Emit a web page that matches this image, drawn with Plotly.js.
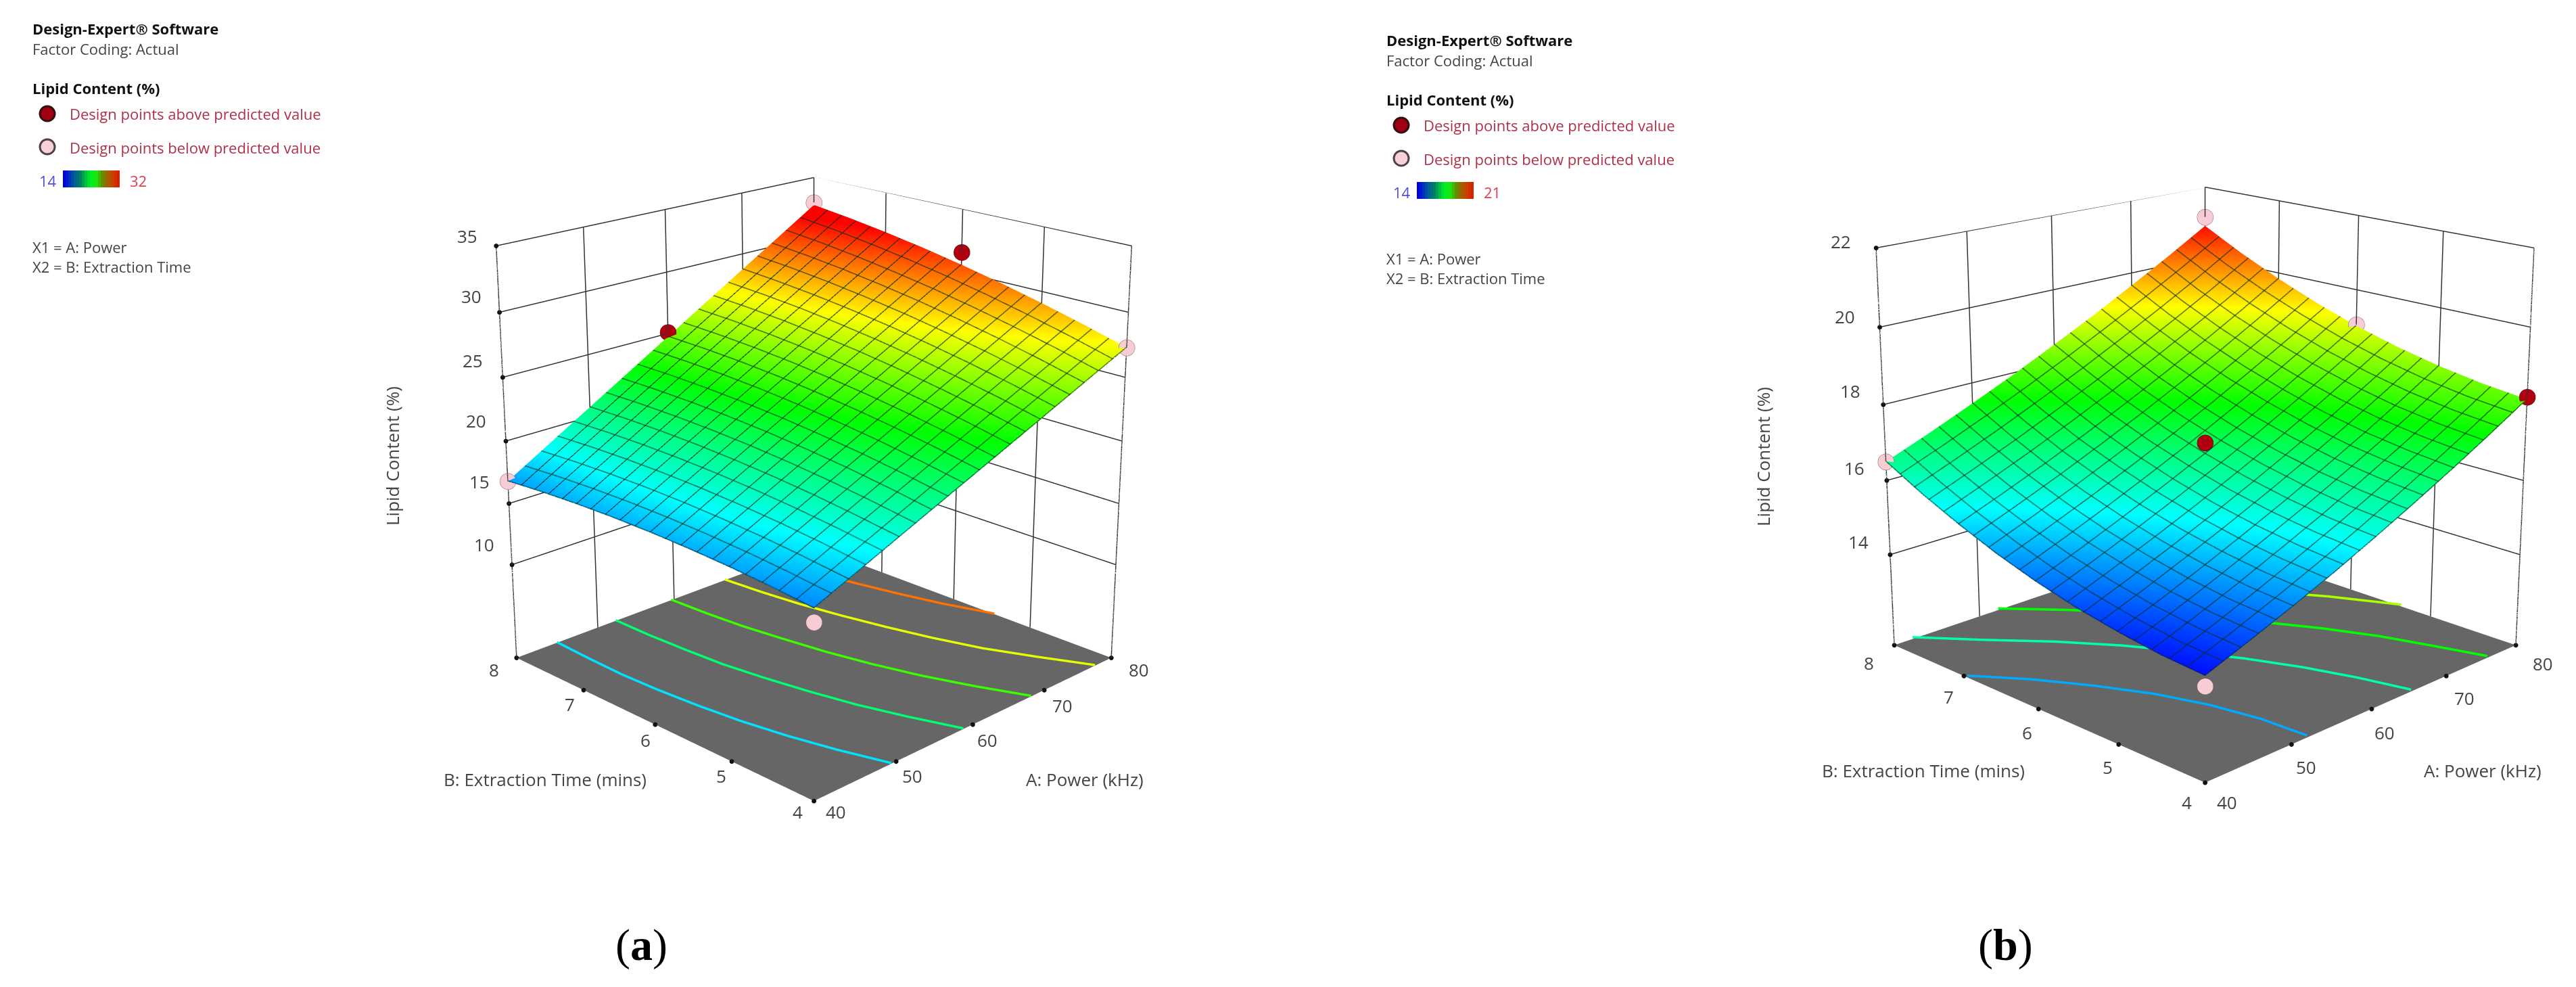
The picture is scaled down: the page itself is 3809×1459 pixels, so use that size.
<!DOCTYPE html>
<html><head><meta charset="utf-8">
<script src="https://cdn.plot.ly/plotly-3.0.1.min.js"></script>
<style>html,body{margin:0;padding:0;background:#fff;overflow:hidden;width:3809px;height:1459px}
#plot{position:absolute;left:0;top:-672px;width:3809px;height:2700px}</style>
</head><body><div id="plot"></div>
<script>
const powerGrid=[40,45,50,55,60,65,70,75,80];
const timeGrid=[4,4.5,5,5.5,6,6.5,7,7.5,8];
const powerTicks=[40,50,60,70,80];
const timeTicks=[4,5,6,7,8];
const zTicksA=[10,15,20,25,30,35];
const zTicksB=[14,16,18,20,22];
const lipidA=[
[16.40,17.76,19.13,20.49,21.85,23.21,24.58,25.94,27.30],
[16.71,18.15,19.59,21.03,22.48,23.92,25.36,26.80,28.24],
[16.95,18.47,19.99,21.51,23.03,24.54,26.06,27.58,29.10],
[17.11,18.71,20.31,21.90,23.50,25.10,26.69,28.29,29.89],
[17.20,18.88,20.55,22.23,23.90,25.58,27.25,28.93,30.60],
[17.21,18.97,20.72,22.47,24.23,25.98,27.73,29.48,31.24],
[17.15,18.98,20.81,22.64,24.48,26.31,28.14,29.97,31.80],
[17.01,18.92,20.83,22.74,24.65,26.56,28.47,30.38,32.29],
[16.80,18.79,20.78,22.76,24.75,26.74,28.73,30.71,32.70]];
const lipidB=[
[14.10,14.52,14.96,15.42,15.92,16.44,16.98,17.55,18.14],
[14.18,14.60,15.05,15.53,16.02,16.55,17.10,17.67,18.27],
[14.33,14.75,15.21,15.69,16.19,16.72,17.27,17.85,18.46],
[14.53,14.97,15.43,15.91,16.42,16.95,17.51,18.10,18.71],
[14.80,15.24,15.71,16.20,16.71,17.25,17.82,18.41,19.02],
[15.13,15.58,16.05,16.55,17.06,17.61,18.18,18.78,19.40],
[15.53,15.98,16.45,16.95,17.48,18.03,18.61,19.21,19.84],
[15.98,16.44,16.92,17.43,17.96,18.52,19.10,19.70,20.34],
[16.50,16.96,17.45,17.96,18.50,19.06,19.65,20.26,20.90]];
const abovePtsA={x:[60,80],y:[8,6],z:[25.1,31.6]};
const belowPtsA={x:[40,80,80,40],y:[8,8,4,4],z:[16.8,32.9,27.3,15.4]};
const abovePtsB={x:[60,80],y:[6,4],z:[17.0,18.2]};
const belowPtsB={x:[40,80,80,40],y:[8,8,6,4],z:[16.5,21.15,19.05,13.85]};
// floor contours: level, power values, time values
const contourTimes=[4,4.5,5,5.5,6,6.5,7,7.5,8];
const contoursA=[
 {level:18,p:[49.4,47.9,46.7,45.8,45.2,44.8,44.6,44.7,44.9],t:contourTimes},
 {level:21,p:[58.75,57.0,55.5,54.4,53.5,52.8,52.5,52.3,52.3],t:contourTimes},
 {level:24,p:[68.1,66.0,64.2,62.8,61.7,60.9,60.2,59.8,59.6],t:contourTimes},
 {level:27,p:[77.5,75.1,72.9,71.3,70.0,68.9,68.0,67.4,67.0],t:contourTimes},
 {level:30,p:[80,78.2,76.9,75.8,75.0,74.4],t:[5.46,6,6.5,7,7.5,8]}];
const contoursB=[
 {level:15.17,p:[51.9,51.6,50.6,48.9,46.4,43.4,40],t:[4,4.5,5,5.5,6,6.5,6.95]},
 {level:16.33,p:[65.2,63.9,62.2,60,57.3,54.3,50.6,46.2,42.1],t:contourTimes},
 {level:17.5,p:[75.8,74.2,72.5,70.2,67.4,64.2,60.7,56.7,52.25],t:contourTimes},
 {level:18.67,p:[80,79.3,76.7,73.5,70,66,61.7],t:[5.36,5.5,6,6.5,7,7.5,8]}];
const legendLines=["Design-Expert® Software","Factor Coding: Actual","Lipid Content (%)","Design points above predicted value","Design points below predicted value","X1 = A: Power","X2 = B: Extraction Time"];
const axisTitles=["A: Power (kHz)","B: Extraction Time (mins)","Lipid Content (%)"];
const scaleColors=[[0,'#0000ff'],[0.25,'#00ffff'],[0.5,'#00ff00'],[0.75,'#ffff00'],[1,'#ff0000']];
const swatchColors=['#0000e0','#0018d0','#0030c0','#004aa8','#006090','#007078','#008060','#00a050','#00c040','#00dc30','#00f020','#10e818','#20e010','#40b808','#609000','#807800','#a06000','#b45000','#c84000','#d03000','#d82000'];

const H=2700,W=3809,OFFSET=672;
const px=x=>x/W, py=y=>1-(y+OFFSET)/H;

function wallGrid(zmin,zTicks){
  const zmax=zTicks[zTicks.length-1];
  const X=[],Y=[],Z=[];
  const seg=(a,b)=>{X.push(a[0],b[0],null);Y.push(a[1],b[1],null);Z.push(a[2],b[2],null);};
  powerTicks.forEach(p=>seg([p,8,zmin],[p,8,zmax]));
  timeTicks.forEach(t=>seg([80,t,zmin],[80,t,zmax]));
  zTicks.forEach(z=>{seg([40,8,z],[80,8,z]);seg([80,4,z],[80,8,z]);});
  return {X,Y,Z};
}
function colorAt(v,cmax){
  const f=Math.max(0,Math.min(1,(v-14)/(cmax-14)))*4, i=Math.min(3,Math.floor(f)), u=f-i;
  const st=[[0,0,255],[0,255,255],[0,255,0],[255,255,0],[255,0,0]];
  const c=st[i].map((a,k)=>Math.round(a+(st[i+1][k]-a)*u));
  return `rgb(${c[0]},${c[1]},${c[2]})`;
}
function build(scene,zvals,zmin,zTicks,cmax,contours,above,below,stem){
  const g=wallGrid(zmin,zTicks);
  const tr=[];
  tr.push({type:'scatter3d',scene,mode:'lines',x:g.X,y:g.Y,z:g.Z,line:{color:'#333',width:3},hoverinfo:'skip',showlegend:false});
  contours.forEach(c=>tr.push({type:'scatter3d',scene,mode:'lines',x:c.p,y:c.t,z:c.p.map(()=>zmin+0.05),line:{color:colorAt(c.level,cmax),width:7},hoverinfo:'skip',showlegend:false}));
  const surf=(dx,dy)=>({type:'surface',scene,x:powerGrid,y:timeGrid,z:zvals,cmin:14,cmax:cmax,colorscale:scaleColors,showscale:false,
    lighting:{ambient:1,diffuse:0,specular:0,roughness:1,fresnel:0},hoverinfo:'skip',
    contours:{x:{show:true,start:40+dx,end:80,size:2,color:'#0a2a18',width:1,highlight:false},
      y:{show:true,start:4+dy,end:8,size:0.2,color:'#0a2a18',width:1,highlight:false}}});
  tr.push(surf(0,0));
  tr.push(surf(0.07,0.007));
  tr.push({type:'scatter3d',scene,mode:'markers',x:above.x,y:above.y,z:above.z,marker:{size:14,color:'#b00010',line:{color:'#401010',width:1}},hoverinfo:'skip',showlegend:false});
  tr.push({type:'scatter3d',scene,mode:'markers',x:below.x,y:below.y,z:below.z,marker:{size:14,color:'#f8ccd4',line:{color:'#806068',width:1}},hoverinfo:'skip',showlegend:false});
  if(stem) tr.push({type:'scatter3d',scene,mode:'lines',x:stem.x,y:stem.y,z:stem.z,line:{color:'#701010',width:3},hoverinfo:'skip',showlegend:false});
  const tx=[],ty=[],tz=[];
  powerTicks.forEach(p=>{tx.push(p);ty.push(4);tz.push(zmin);});
  timeTicks.forEach(t=>{tx.push(40);ty.push(t);tz.push(zmin);});
  zTicks.forEach(z=>{tx.push(40);ty.push(8);tz.push(z);});
  tr.push({type:'scatter3d',scene,mode:'markers',x:tx,y:ty,z:tz,marker:{size:4,color:'#111'},hoverinfo:'skip',showlegend:false});
  return tr;
}
const axisBase={showgrid:false,zeroline:false,showline:false,showbackground:false,showspikes:false,ticks:'',showticklabels:false,title:{text:''}};
function sceneCfg(dom,eye,centerZ,aspectZ,zmin,zTicks){
  return {domain:{x:dom,y:[0,1]},aspectmode:'manual',aspectratio:{x:1,y:1,z:aspectZ},
    camera:{eye:eye,center:{x:0,y:0,z:centerZ},up:{x:0,y:0,z:1},projection:{type:'perspective'}},
    xaxis:Object.assign({},axisBase,{range:[40,80],tickvals:powerTicks}),
    yaxis:Object.assign({},axisBase,{range:[4,8],tickvals:timeTicks}),
    zaxis:Object.assign({},axisBase,{range:[zmin,zTicks[zTicks.length-1]],tickvals:zTicks,showbackground:true,backgroundcolor:'#666666'})};
}
const ann=[],shapes=[];
const F='Open Sans';
function text(x,y,t,o){ann.push(Object.assign({xref:'paper',yref:'paper',x:px(x),y:py(y),text:t,showarrow:false,xanchor:'left',yanchor:'middle',
  font:{family:F,size:22,color:'#444'}},o||{}));}
function legend(dx,dy,hi){
  const bold={font:{family:F,size:22,color:'#111'}};
  text(46+dx,42+dy,'<b>'+legendLines[0]+'</b>',bold);
  text(46+dx,72+dy,legendLines[1]);
  text(46+dx,130+dy,'<b>'+legendLines[2]+'</b>',bold);
  const red={font:{family:F,size:22,color:'#b03048'}};
  text(101+dx,168+dy,legendLines[3],red);
  text(101+dx,218+dy,legendLines[4],red);
  text(56+dx,267+dy,'14',{font:{family:F,size:22,color:'#5050d0'}});
  text(190+dx,267+dy,hi,{font:{family:F,size:22,color:'#e04050'}});
  text(46+dx,365+dy,legendLines[5]);
  text(46+dx,394+dy,legendLines[6]);
  const circ=(cx,cy,fill,line)=>shapes.push({type:'circle',xref:'paper',yref:'paper',x0:px(cx-11+dx),x1:px(cx+11+dx),y0:py(cy+11+dy),y1:py(cy-11+dy),fillcolor:fill,line:{color:line,width:3}});
  circ(70,168,'#a00010','#301010');
  circ(70,217,'#f8d0d8','#504048');
  swatchColors.forEach((c,i)=>shapes.push({type:'rect',xref:'paper',yref:'paper',x0:px(93+dx+i*84/swatchColors.length),x1:px(93+dx+(i+1)*84/swatchColors.length),y0:py(277+dy),y1:py(252+dy),fillcolor:c,line:{width:0}}));
}
legend(0,0,'32');
legend(2002,17,'21');
const serif={font:{family:'Liberation Serif',size:66,color:'#000'},xanchor:'center'};
text(948,1397,'(<b>a</b>)',serif);
text(2965,1397,'(<b>b</b>)',serif);

const tick={font:{family:F,size:26,color:'#444'},xanchor:'center'};
function labels(vals,pos){vals.forEach((v,i)=>text(pos[i][0],pos[i][1],String(v),tick));}
labels(zTicksA,[[716,805],[709,712],[704,622],[699,533],[697,438],[691,349]]);
labels(powerTicks,[[1236,1200],[1349,1147],[1460,1094],[1571,1043],[1684,990]]);
labels(timeTicks,[[1179,1200],[1066,1147],[954,1094],[842,1041],[730,990]]);
text(1604,1152,axisTitles[0],tick);
text(806,1152,axisTitles[1],tick);
text(580,674,axisTitles[2],Object.assign({textangle:-90},tick));
labels(zTicksB,[[2748,801],[2742,692],[2736,578],[2728,468],[2722,357]]);
labels(powerTicks,[[3293,1186],[3410,1134],[3526,1083],[3644,1032],[3760,981]]);
labels(timeTicks,[[3233,1186],[3116,1134],[2997,1083],[2881,1030],[2763,980]]);
text(3671,1139,axisTitles[0],tick);
text(2844,1139,axisTitles[1],tick);
text(2607,675,axisTitles[2],Object.assign({textangle:-90},tick));

const data=[].concat(
  build('scene',lipidA,2.2,zTicksA,32,contoursA,abovePtsA,belowPtsA,{x:[80,80],y:[6,6],z:[31.6,30.6]}),
  build('scene2',lipidB,11.5,zTicksB,21,contoursB,abovePtsB,belowPtsB,null));
const layout={width:W,height:H,margin:{l:0,r:0,t:0,b:0},paper_bgcolor:'#fff',showlegend:false,
  scene:sceneCfg([0,0.632],{x:-3.38,y:-3.38,z:1.70},0,1.005,2.2,zTicksA),
  scene2:sceneCfg([0.712,1],{x:-3.29,y:-3.29,z:1.46},-0.015,0.92,11.5,zTicksB),
  annotations:ann,shapes:shapes};
Plotly.newPlot('plot',data,layout,{displayModeBar:false});
</script></body></html>
